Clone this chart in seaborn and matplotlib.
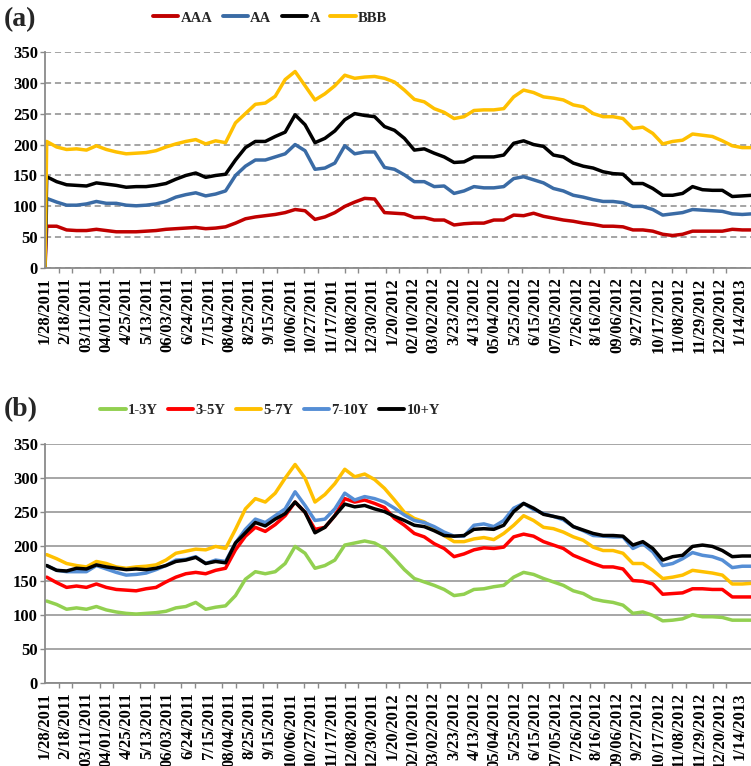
import numpy as np
import pandas as pd
import matplotlib
matplotlib.use("Agg")
import matplotlib.pyplot as plt
import seaborn as sns
from matplotlib.ticker import MultipleLocator, FixedLocator
from matplotlib.lines import Line2D

# ---------------- data ----------------
TICK_LABELS = ["1/28/2011", "2/18/2011", "03/11/2011", "04/01/2011", "4/25/2011", "5/13/2011",
               "06/03/2011", "6/24/2011", "7/15/2011", "08/04/2011", "8/25/2011", "9/15/2011",
               "10/06/2011", "10/27/2011", "11/17/2011", "12/08/2011", "12/30/2011", "1/20/2012",
               "02/10/2012", "03/02/2012", "3/23/2012", "4/13/2012", "05/04/2012", "5/25/2012",
               "6/15/2012", "07/05/2012", "7/26/2012", "8/16/2012", "09/06/2012", "9/27/2012",
               "10/17/2012", "11/08/2012", "11/29/2012", "12/20/2012", "1/14/2013"]

RATINGS = ["AAA", "AA", "A", "BBB"]
AAA = [68, 68, 62, 61, 61, 63, 61, 59, 59, 59, 60, 61, 63, 64, 65, 66, 64, 65, 67, 73,
       80, 83, 85, 87, 90, 95, 93, 79, 83, 90, 100, 107, 113, 112,
       90, 89, 88, 82, 82, 78, 78, 70, 72, 73, 73, 78, 78, 86, 85, 89, 84, 81, 78, 76,
       73, 71, 68, 68, 67, 62, 62, 60, 55, 53, 55, 60, 60, 60, 60, 63, 62, 62]
AA = [113, 107, 102, 102, 104, 108, 105, 105, 102, 101, 102, 104, 108, 115, 119, 122, 117, 120, 125, 150,
      165, 175, 175, 180, 185, 200, 190, 160, 162, 170, 198, 185, 188, 188,
      163, 160, 151, 140, 140, 132, 133, 121, 125, 132, 130, 130, 132, 145, 148, 143, 138, 129, 125, 118,
      115, 111, 108, 108, 106, 100, 100, 95, 86, 88, 90, 95, 94, 93, 92, 88, 87, 88]
A = [148, 140, 135, 134, 133, 138, 136, 134, 131, 132, 132, 134, 137, 144, 150, 154, 147, 150, 152, 175,
     195, 205, 205, 213, 220, 248, 232, 203, 210, 222, 240, 250, 247, 245,
     229, 223, 210, 191, 193, 186, 180, 171, 172, 180, 180, 180, 183, 202, 206, 200, 197, 183, 180, 170,
     165, 162, 156, 153, 152, 137, 137, 129, 118, 118, 121, 132, 127, 126, 126, 116, 117, 118]
BBB = [205, 196, 192, 193, 191, 198, 192, 188, 185, 186, 187, 190, 196, 201, 205, 208, 201, 206, 203, 235,
       250, 265, 267, 278, 305, 318, 295, 272, 282, 295, 312, 307, 309, 310,
       307, 301, 288, 273, 269, 258, 252, 242, 245, 255, 256, 256, 258, 277, 288, 284, 277, 275, 272, 264,
       261, 250, 245, 245, 242, 226, 228, 218, 201, 205, 207, 217, 215, 213, 206, 198, 195, 195]
START_VALUE = 0  # first observation of panel (a) is zero for every rating

MATURITIES = ["1-3Y", "3-5Y", "5-7Y", "7-10Y", "10+Y"]
Y1_3 = [120, 115, 108, 110, 108, 112, 107, 104, 102, 101, 102, 103, 105, 110, 112, 118, 108, 111, 113, 128,
        152, 163, 160, 163, 175, 200, 190, 168, 172, 180, 202, 205, 208, 205,
        197, 182, 166, 153, 148, 143, 137, 128, 130, 137, 138, 141, 143, 155, 162, 159, 153, 148, 143, 135,
        131, 123, 120, 118, 114, 102, 104, 99, 91, 92, 94, 100, 97, 97, 96, 92, 92, 92]
Y3_5 = [155, 147, 140, 142, 140, 145, 140, 137, 136, 135, 138, 140, 148, 155, 160, 162, 160, 165, 168, 195,
        215, 228, 222, 232, 245, 265, 250, 225, 228, 245, 270, 265, 268, 263,
        257, 241, 231, 219, 214, 204, 197, 185, 189, 195, 198, 197, 199, 214, 218, 215, 207, 202, 197, 187,
        181, 175, 170, 170, 167, 150, 149, 145, 130, 131, 132, 138, 138, 137, 137, 126, 126, 126]
Y5_7 = [188, 182, 175, 172, 170, 178, 175, 170, 168, 170, 171, 173, 180, 190, 193, 196, 195, 200, 197, 225,
        255, 270, 265, 278, 300, 320, 300, 265, 276, 292, 313, 302, 306, 298,
        285, 268, 250, 241, 236, 226, 216, 207, 207, 211, 213, 210, 219, 231, 245, 238, 228, 226, 221, 214,
        209, 199, 194, 194, 190, 175, 175, 165, 153, 155, 158, 165, 163, 161, 158, 145, 145, 146]
Y7_10 = [172, 165, 163, 163, 163, 172, 167, 162, 158, 159, 161, 166, 172, 180, 181, 185, 175, 180, 178, 205,
         225, 240, 235, 245, 255, 280, 260, 238, 240, 255, 278, 268, 273, 270,
         265, 256, 246, 238, 235, 229, 221, 215, 215, 231, 233, 229, 238, 256, 263, 254, 248, 244, 239, 229,
         223, 216, 215, 214, 214, 197, 204, 192, 172, 175, 182, 191, 187, 185, 180, 169, 171, 171]
Y10P = [172, 165, 164, 168, 167, 173, 170, 168, 166, 167, 166, 168, 172, 178, 180, 184, 175, 178, 176, 205,
        220, 235, 230, 240, 248, 265, 250, 220, 228, 245, 262, 258, 260, 255,
        251, 244, 238, 231, 229, 223, 216, 215, 216, 225, 226, 225, 231, 251, 263, 256, 247, 244, 241, 229,
        224, 219, 216, 216, 215, 202, 207, 197, 180, 185, 187, 200, 202, 200, 194, 185, 186, 186]

# ---------------- layout / style ----------------
DAYS_PER_LABEL = 15
DAYS_PER_TICK = 10
SAMPLE_STEP = 7.29
FIRST_SAMPLE = 1.25
X_END = 518

COLORS_A = ["#C00000", "#3A6BA5", "#000000", "#FFC000"]
COLORS_B = ["#92D050", "#FF0000", "#FFC000", "#558ED5", "#000000"]

sns.set_theme(style="white")
plt.rcParams['font.family'] = ['Liberation Serif', 'DejaVu Serif']
plt.rcParams['font.weight'] = 'bold'

W, H = 751, 766
fig = plt.figure(figsize=(W / 100, H / 100), dpi=100)


def rect(l, t, r, b):
    return [l / W, 1 - b / H, (r - l) / W, (b - t) / H]


axA = fig.add_axes(rect(45, 51.7, 751, 268.3))
axB = fig.add_axes(rect(45, 444, 751, 683))

n = len(AAA)
days = FIRST_SAMPLE + SAMPLE_STEP * np.arange(n)

rowsA = []
for name, vals in zip(RATINGS, [AAA, AA, A, BBB]):
    rowsA.append(pd.DataFrame({"day": np.r_[0.0, days], "spread": np.r_[START_VALUE, vals], "series": name}))
dfA = pd.concat(rowsA, ignore_index=True)

rowsB = []
for name, vals in zip(MATURITIES, [Y1_3, Y3_5, Y5_7, Y7_10, Y10P]):
    rowsB.append(pd.DataFrame({"day": days, "spread": vals, "series": name}))
dfB = pd.concat(rowsB, ignore_index=True)

line_kw = dict(linewidth=2.5, solid_joinstyle="round", solid_capstyle="round",
               estimator=None, sort=False, legend=False)
sns.lineplot(data=dfA, x="day", y="spread", hue="series", hue_order=RATINGS,
             palette=COLORS_A, ax=axA, **line_kw)
sns.lineplot(data=dfB, x="day", y="spread", hue="series", hue_order=MATURITIES,
             palette=COLORS_B, ax=axB, **line_kw)

GRAY = "#8A8A8A"
for ax, dashed in [(axA, True), (axB, False)]:
    ax.set_xlim(0, X_END)
    ax.set_ylim(0, 350)
    ax.set_xlabel("")
    ax.set_ylabel("")
    ax.set_yticks(np.arange(0, 351, 50))
    ax.xaxis.set_major_locator(FixedLocator(np.arange(len(TICK_LABELS)) * DAYS_PER_LABEL))
    ax.set_xticklabels(TICK_LABELS)
    ax.xaxis.set_minor_locator(MultipleLocator(DAYS_PER_TICK))
    ax.tick_params(axis="x", which="major", length=0, pad=6.5, labelsize=12,
                   labelrotation=90, colors="black")
    ax.tick_params(axis="x", which="minor", length=3.6, width=1.0, color=GRAY, bottom=True)
    ax.tick_params(axis="y", which="major", length=3.6, width=1.0, color=GRAY, pad=1.5,
                   labelsize=12, left=True, labelcolor="black")
    for lab in ax.get_xticklabels() + ax.get_yticklabels():
        lab.set_fontweight("bold")
    for s in ["top", "right"]:
        ax.spines[s].set_visible(False)
    for s in ["left", "bottom"]:
        ax.spines[s].set_color(GRAY)
        ax.spines[s].set_linewidth(1.3)
        ax.spines[s].set_zorder(5)
    ax.set_axisbelow(True)
    if dashed:
        ax.yaxis.grid(True, color="#8C8C8C", linewidth=1.1, linestyle=(0, (4, 2.5)))
    else:
        ax.yaxis.grid(True, color="#A6A6A6", linewidth=1.4, linestyle="-")
    ax.xaxis.grid(False)
    ax.set_facecolor("white")

leg_kw = dict(loc="center", frameon=False, handlelength=1.75, handletextpad=0.15,
              columnspacing=0.7, prop={"family": "Liberation Serif", "weight": "bold", "size": 10.5})
hA = [Line2D([], [], color=c, lw=2.8, solid_capstyle="round") for c in COLORS_A]
fig.legend(hA, RATINGS, bbox_to_anchor=(270 / W, 1 - 18 / H), ncol=4, **leg_kw)
hB = [Line2D([], [], color=c, lw=2.8, solid_capstyle="round") for c in COLORS_B]
fig.legend(hB, MATURITIES, bbox_to_anchor=(270 / W, 1 - 410 / H), ncol=5, **leg_kw)

fig.text(4 / W, 1 - 20 / H, "(a)", fontsize=20, fontweight="bold", ha="left", va="center")
fig.text(4 / W, 1 - 410 / H, "(b)", fontsize=20, fontweight="bold", ha="left", va="center")

fig.savefig("out.png", dpi=100, facecolor="white")
